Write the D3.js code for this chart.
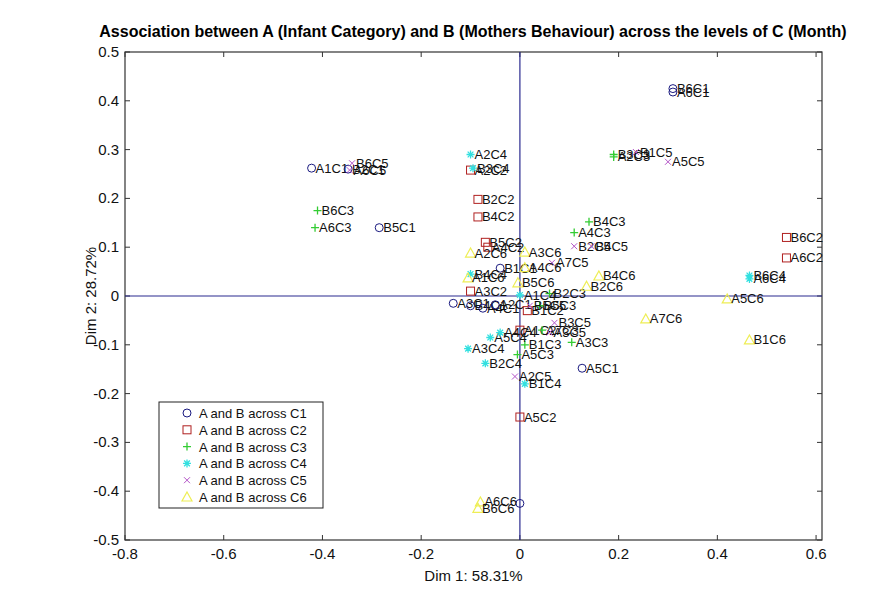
<!DOCTYPE html>
<html>
<head>
<meta charset="utf-8">
<script src="https://cdn.jsdelivr.net/npm/d3@7"></script>
<style>
  body { margin: 0; background: #fff; }
  text { font-family: "Liberation Sans", Arial, sans-serif; }
</style>
</head>
<body>
<svg width="894" height="603"></svg>
<script>
// points per level of C : [label, dim1, dim2]
const c1Points = [
    ["B6C1", 0.31, 0.425], ["A6C1", 0.31, 0.418], ["A1C1", -0.422, 0.262],
    ["B2C1", -0.348, 0.26], ["B5C1", -0.285, 0.14], ["B1C1", -0.04, 0.057],
    ["A3C1", -0.135, -0.015], ["B4C1", -0.1, -0.02], ["A4C1", -0.075, -0.025],
    ["A2C1", -0.05, -0.018], ["A5C1", 0.126, -0.148], ["", 0.0, -0.425]
];
const c2Points = [
    ["A2C2", -0.1, 0.258], ["B2C2", -0.085, 0.198], ["B4C2", -0.085, 0.162],
    ["B5C2", -0.07, 0.11], ["A4C2", -0.065, 0.1], ["B6C2", 0.54, 0.12],
    ["A6C2", 0.54, 0.078], ["A3C2", -0.1, 0.01], ["B1C2", 0.015, -0.03],
    ["A5C2", 0.0, -0.248], ["A1C2", 0.0, -0.07]
];
const c3Points = [
    ["B3C3", 0.19, 0.29], ["A2C3", 0.19, 0.285], ["B6C3", -0.41, 0.175],
    ["A6C3", -0.415, 0.14], ["B4C3", 0.14, 0.152], ["A4C3", 0.11, 0.13],
    ["B2C3", 0.06, 0.005], ["A3C3", 0.105, -0.095], ["B1C3", 0.01, -0.1],
    ["A5C3", -0.005, -0.12], ["B5C3", 0.04, -0.02], ["A7C3", 0.045, -0.07]
];
const c4Points = [
    ["A2C4", -0.1, 0.29], ["B3C4", -0.095, 0.262], ["B6C4", 0.465, 0.042],
    ["A6C4", 0.465, 0.035], ["A3C4", -0.105, -0.108], ["B2C4", -0.07, -0.138],
    ["B1C4", 0.01, -0.18], ["A1C4", 0.0, 0.002], ["B4C4", -0.1, 0.045],
    ["A5C4", -0.06, -0.085], ["A4C4", -0.04, -0.075]
];
const c5Points = [
    ["B6C5", -0.34, 0.272], ["A6C5", -0.345, 0.258], ["B1C5", 0.235, 0.295],
    ["A5C5", 0.3, 0.275], ["B2C5", 0.11, 0.102], ["B4C5", 0.145, 0.102],
    ["A7C5", 0.065, 0.068], ["A2C5", -0.01, -0.165], ["B3C5", 0.07, -0.055],
    ["A3C5", 0.06, -0.075], ["B5C5", 0.02, -0.02]
];
const c6Points = [
    ["A2C6", -0.1, 0.088], ["A3C6", 0.01, 0.09], ["A4C6", 0.01, 0.058],
    ["B4C6", 0.16, 0.041], ["B2C6", 0.135, 0.02], ["A5C6", 0.42, -0.006],
    ["A7C6", 0.255, -0.047], ["B1C6", 0.465, -0.09], ["A6C6", -0.08, -0.422],
    ["B6C6", -0.085, -0.435], ["B5C6", -0.004, 0.027], ["A1C6", -0.105, 0.037]
];

const seriesNames = ["A and B across C1", "A and B across C2", "A and B across C3",
                     "A and B across C4", "A and B across C5", "A and B across C6"];
const xTicks = [-0.8, -0.6, -0.4, -0.2, 0, 0.2, 0.4, 0.6];
const yTicks = [-0.5, -0.4, -0.3, -0.2, -0.1, 0, 0.1, 0.2, 0.3, 0.4, 0.5];

const groups = [c1Points, c2Points, c3Points, c4Points, c5Points, c6Points];
const colors = ["#1a1a80", "#b02020", "#33cc33", "#33e0e0", "#b455c8", "#eeee55"];
const shapes = ["circle", "square", "plus", "star", "cross", "triangle"];

const svg = d3.select("svg");
const pLeft = 125, pRight = 822, pTop = 52, pBottom = 540;

const x = d3.scaleLinear().domain([-0.8, 0.612]).range([pLeft, pRight]);
const y = d3.scaleLinear().domain([-0.5, 0.5]).range([pBottom, pTop]);

// marker drawing
function marker(sel, shape, color) {
    const s = 4;
    if (shape === "circle") {
        sel.append("circle").attr("r", s).attr("fill", "none").attr("stroke", color);
    } else if (shape === "square") {
        sel.append("rect").attr("x", -s).attr("y", -s).attr("width", 2 * s).attr("height", 2 * s)
            .attr("fill", "none").attr("stroke", color);
    } else if (shape === "plus") {
        sel.append("path").attr("d", `M${-s},0H${s}M0,${-s}V${s}`).attr("stroke", color).attr("stroke-width", 1.3);
    } else if (shape === "star") {
        const d = s * 0.72;
        sel.append("path").attr("d", `M${-s},0H${s}M0,${-s}V${s}M${-d},${-d}L${d},${d}M${-d},${d}L${d},${-d}`)
            .attr("stroke", color).attr("stroke-width", 1.3);
    } else if (shape === "cross") {
        const d = s * 0.75;
        sel.append("path").attr("d", `M${-d},${-d}L${d},${d}M${-d},${d}L${d},${-d}`).attr("stroke", color);
    } else if (shape === "triangle") {
        sel.append("path").attr("d", `M0,${-s - 1}L${s + 1},${s}L${-s - 1},${s}Z`)
            .attr("fill", "none").attr("stroke", color).attr("stroke-width", 1.2);
    }
}

// frame
svg.append("rect").attr("x", pLeft).attr("y", pTop).attr("width", pRight - pLeft).attr("height", pBottom - pTop)
    .attr("fill", "#fff").attr("stroke", "#333").attr("stroke-width", 1.2);

// ticks (inward, all four sides)
const tk = svg.append("g").attr("stroke", "#333");
xTicks.forEach(t => {
    tk.append("line").attr("x1", x(t)).attr("x2", x(t)).attr("y1", pBottom).attr("y2", pBottom - 5);
    tk.append("line").attr("x1", x(t)).attr("x2", x(t)).attr("y1", pTop).attr("y2", pTop + 5);
});
yTicks.forEach(t => {
    tk.append("line").attr("x1", pLeft).attr("x2", pLeft + 5).attr("y1", y(t)).attr("y2", y(t));
    tk.append("line").attr("x1", pRight).attr("x2", pRight - 5).attr("y1", y(t)).attr("y2", y(t));
});

svg.append("g").selectAll("text").data(xTicks).enter().append("text")
    .attr("x", d => x(d)).attr("y", pBottom + 19)
    .attr("text-anchor", "middle").attr("font-size", 15).attr("fill", "#111")
    .text(d => String(d));
svg.append("g").selectAll("text").data(yTicks).enter().append("text")
    .attr("x", pLeft - 6).attr("y", d => y(d) + 5)
    .attr("text-anchor", "end").attr("font-size", 15).attr("fill", "#111")
    .text(d => String(d));

// zero lines
svg.append("line").attr("x1", pLeft).attr("x2", pRight).attr("y1", y(0)).attr("y2", y(0))
    .attr("stroke", "#2a2a90").attr("stroke-width", 1.2);
svg.append("line").attr("x1", x(0)).attr("x2", x(0)).attr("y1", pTop).attr("y2", pBottom)
    .attr("stroke", "#2a2a90").attr("stroke-width", 1.2);

// points + labels
groups.forEach((pts, gi) => {
    const g = svg.append("g");
    pts.forEach(p => {
        const m = g.append("g").attr("transform", `translate(${x(p[1])},${y(p[2])})`);
        marker(m, shapes[gi], colors[gi]);
        m.append("text").attr("x", 4).attr("y", 4.5).attr("font-size", 13).attr("fill", "#111").text(p[0]);
    });
});

// legend
const lg = svg.append("g").attr("transform", "translate(159,402)");
lg.append("rect").attr("width", 164).attr("height", 106).attr("fill", "#fff").attr("stroke", "#222");
seriesNames.forEach((name, i) => {
    const row = lg.append("g").attr("transform", `translate(28,${11 + i * 16.8})`);
    marker(row, shapes[i], colors[i]);
    row.append("text").attr("x", 12).attr("y", 5).attr("font-size", 13).attr("fill", "#111").text(name);
});

// titles
svg.append("text").attr("x", 473).attr("y", 37).attr("text-anchor", "middle")
    .attr("font-size", 16).attr("font-weight", "bold").attr("fill", "#000")
    .text("Association between A (Infant Category) and B (Mothers Behaviour) across the levels of C (Month)");
svg.append("text").attr("x", (pLeft + pRight) / 2).attr("y", 581).attr("text-anchor", "middle")
    .attr("font-size", 15).attr("fill", "#111").text("Dim 1: 58.31%");
svg.append("text").attr("transform", `translate(96,${(pTop + pBottom) / 2}) rotate(-90)`)
    .attr("text-anchor", "middle").attr("font-size", 15).attr("fill", "#111").text("Dim 2: 28.72%");
</script>
</body>
</html>
